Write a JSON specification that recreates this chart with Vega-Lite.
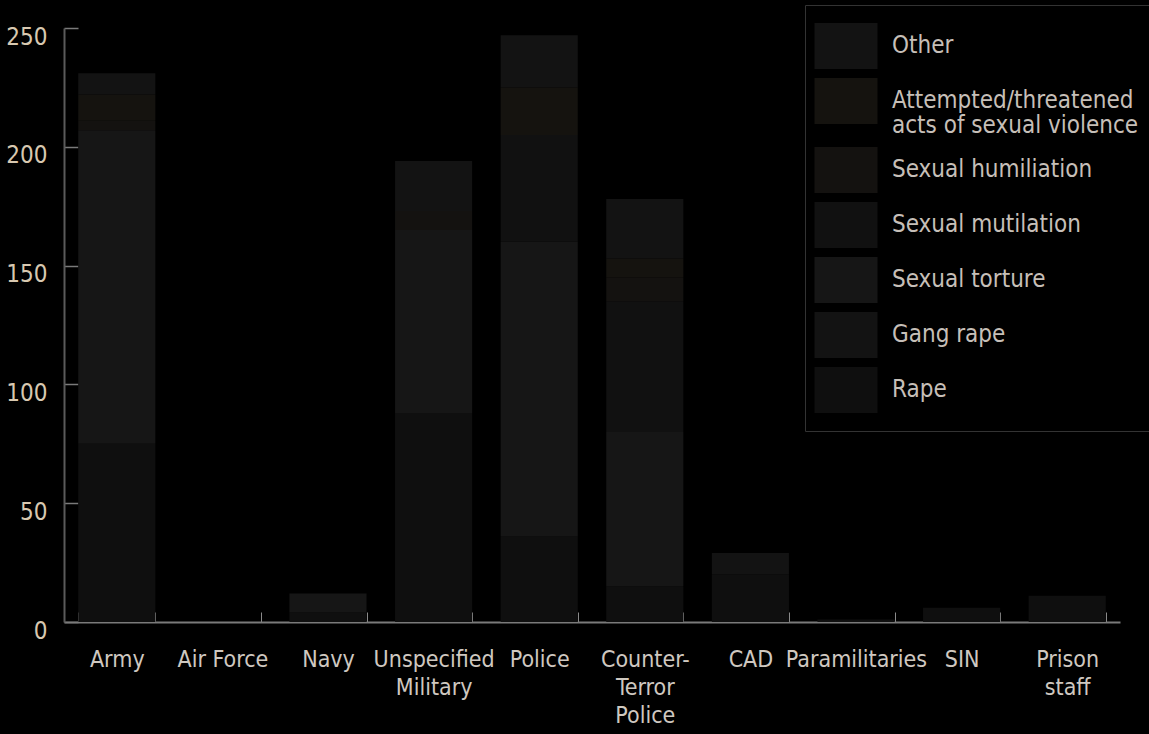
{
  "$schema": "https://vega.github.io/schema/vega-lite/v6.json",
  "width": 1056,
  "height": 594,
  "autosize": {"type": "none"},
  "padding": {"left": 64, "top": 28, "right": 29, "bottom": 112},
  "background": "#000000",
  "config": {
    "view": {"stroke": null},
    "font": "DejaVu Sans Condensed"
  },
  "data": {
    "values": [
      {"force": "Army", "type": "Rape", "count": 75},
      {"force": "Army", "type": "Sexual torture", "count": 132},
      {"force": "Army", "type": "Sexual humiliation", "count": 4},
      {"force": "Army", "type": "Attempted/threatened acts of sexual violence", "count": 11},
      {"force": "Army", "type": "Other", "count": 9},
      {"force": "Air Force", "type": "Rape", "count": 0},
      {"force": "Navy", "type": "Rape", "count": 4},
      {"force": "Navy", "type": "Sexual torture", "count": 8},
      {"force": "Unspecified Military", "type": "Rape", "count": 88},
      {"force": "Unspecified Military", "type": "Sexual torture", "count": 77},
      {"force": "Unspecified Military", "type": "Sexual humiliation", "count": 8},
      {"force": "Unspecified Military", "type": "Other", "count": 21},
      {"force": "Police", "type": "Rape", "count": 36},
      {"force": "Police", "type": "Sexual torture", "count": 124},
      {"force": "Police", "type": "Sexual mutilation", "count": 45},
      {"force": "Police", "type": "Attempted/threatened acts of sexual violence", "count": 20},
      {"force": "Police", "type": "Other", "count": 22},
      {"force": "Counter-Terror Police", "type": "Rape", "count": 15},
      {"force": "Counter-Terror Police", "type": "Sexual torture", "count": 65},
      {"force": "Counter-Terror Police", "type": "Sexual mutilation", "count": 55},
      {"force": "Counter-Terror Police", "type": "Sexual humiliation", "count": 10},
      {"force": "Counter-Terror Police", "type": "Attempted/threatened acts of sexual violence", "count": 8},
      {"force": "Counter-Terror Police", "type": "Other", "count": 25},
      {"force": "CAD", "type": "Rape", "count": 20},
      {"force": "CAD", "type": "Other", "count": 9},
      {"force": "Paramilitaries", "type": "Rape", "count": 1},
      {"force": "SIN", "type": "Rape", "count": 6},
      {"force": "Prison staff", "type": "Rape", "count": 11}
    ]
  },
  "transform": [
    {"calculate": "indexof(['Rape','Gang rape','Sexual torture','Sexual mutilation','Sexual humiliation','Attempted/threatened acts of sexual violence','Other'], datum.type)", "as": "stackOrder"}
  ],
  "mark": {"type": "bar"},
  "encoding": {
    "x": {
      "field": "force",
      "type": "nominal",
      "sort": ["Army", "Air Force", "Navy", "Unspecified Military", "Police", "Counter-Terror Police", "CAD", "Paramilitaries", "SIN", "Prison staff"],
      "scale": {"paddingInner": 0.27, "paddingOuter": 0.135},
      "axis": {
        "title": null,
        "labelAngle": 0,
        "labelFontSize": 23,
        "labelColor": "#cfc8c0",
        "labelPadding": 54,
        "labelLineHeight": 28,
        "labelBaseline": "alphabetic",
        "labelLimit": 200,
        "labelExpr": "datum.label == 'Unspecified Military' ? ['Unspecified', 'Military'] : datum.label == 'Counter-Terror Police' ? ['Counter-', 'Terror', 'Police'] : datum.label == 'Prison staff' ? ['Prison', 'staff'] : datum.label",
        "domainColor": "#7a7a7a",
        "domainWidth": 2,
        "tickColor": "#8a8a8a",
        "tickSize": -10,
        "tickBand": "extent",
        "tickWidth": 1
      }
    },
    "y": {
      "field": "count",
      "type": "quantitative",
      "stack": "zero",
      "scale": {"domain": [0, 250], "nice": false},
      "axis": {
        "title": null,
        "values": [0, 50, 100, 150, 200, 250],
        "labelFontSize": 24,
        "labelColor": "#d8c8b0",
        "labelPadding": 31,
        "labelBaseline": "alphabetic",
        "labelOffset": 16,
        "grid": false,
        "domainColor": "#5a5a5a",
        "domainWidth": 2,
        "tickColor": "#7a7a7a",
        "tickSize": -14,
        "tickWidth": 1.5
      }
    },
    "color": {
      "field": "type",
      "type": "nominal",
      "scale": {
        "domain": ["Other", "Attempted/threatened acts of sexual violence", "Sexual humiliation", "Sexual mutilation", "Sexual torture", "Gang rape", "Rape"],
        "range": ["#131313", "#15130f", "#141210", "#111111", "#161616", "#131313", "#0f0f0f"]
      },
      "legend": {
        "title": null,
        "orient": "none",
        "legendX": 741,
        "legendY": -23,
        "padding": 18,
        "strokeColor": "#333333",
        "fillColor": "#000000",
        "symbolType": "M-1.37,-1H1.37V1H-1.37Z",
        "symbolSize": 2116,
        "symbolStrokeWidth": 0,
        "symbolOpacity": 1,
        "labelFontSize": 24,
        "labelColor": "#c6bfb8",
        "labelLimit": 300,
        "labelOffset": 23,
        "rowPadding": 9,
        "labelExpr": "datum.label == 'Attempted/threatened acts of sexual violence' ? ['Attempted/threatened', 'acts of sexual violence'] : datum.label",
        "encode": {
          "labels": {"update": {"lineHeight": {"value": 25}}}
        }
      }
    },
    "order": {"field": "stackOrder", "type": "quantitative", "sort": "ascending"}
  }
}
